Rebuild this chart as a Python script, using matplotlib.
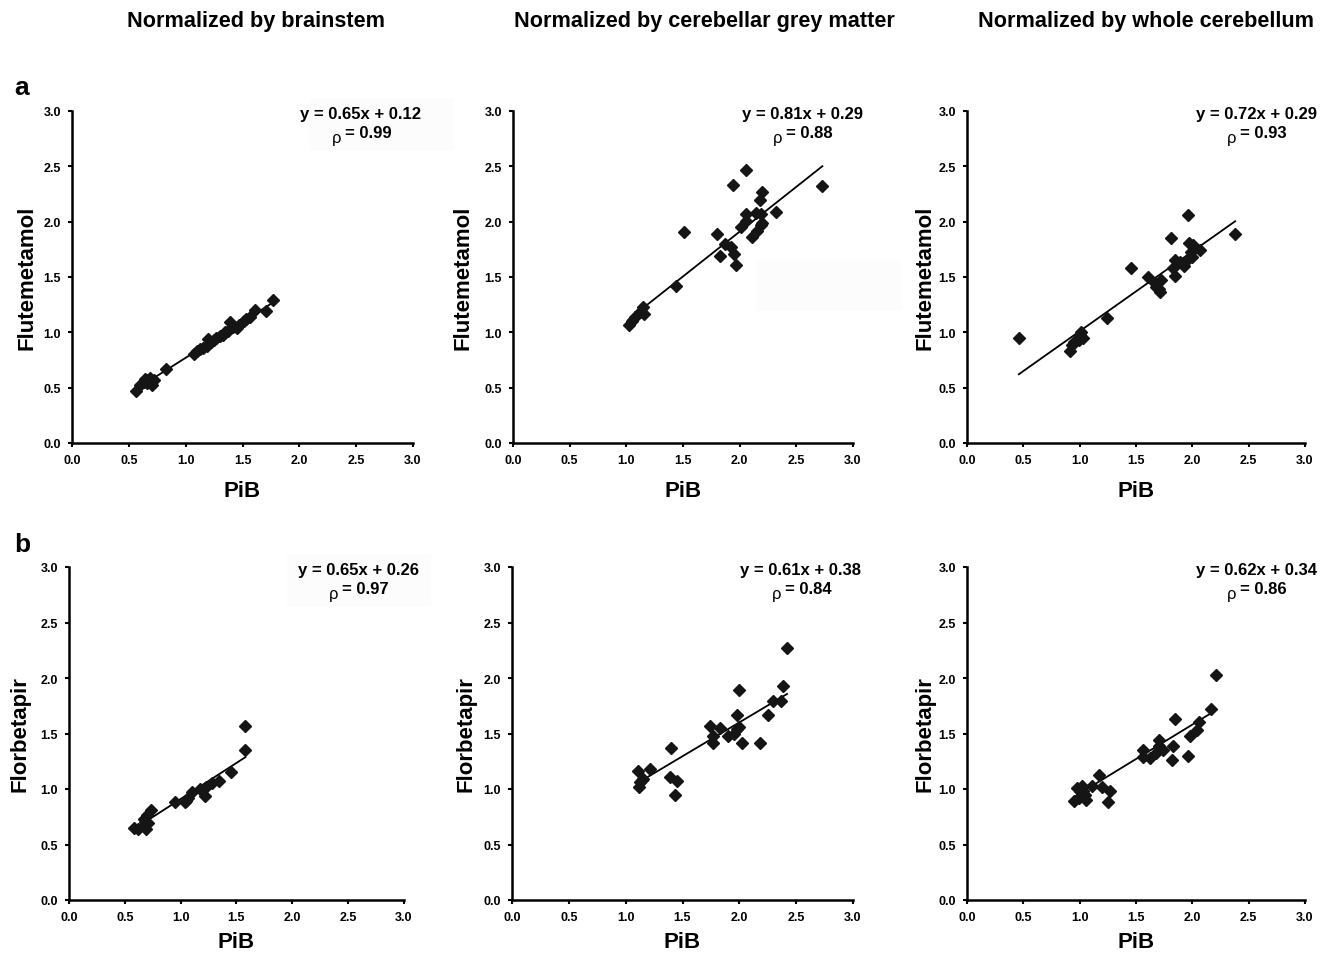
import matplotlib
matplotlib.use("Agg")
import matplotlib.pyplot as plt
from matplotlib.patches import Rectangle
import numpy as np

plt.rcParams['font.family'] = ['Liberation Sans', 'DejaVu Sans']

#column titles and row labels
col_titles = ["Normalized by brainstem", "Normalized by cerebellar grey matter",
              "Normalized by whole cerebellum"]
row_letters = ["a", "b"]
row_ylabels = ["Flutemetamol", "Florbetapir"]
ticks = [0.0, 0.5, 1.0, 1.5, 2.0, 2.5, 3.0]
tick_labels = ["0.0", "0.5", "1.0", "1.5", "2.0", "2.5", "3.0"]

#regression text (slope, intercept, rho)
slopes = [[0.65, 0.81, 0.72], [0.65, 0.61, 0.62]]
intercepts = [[0.12, 0.29, 0.29], [0.26, 0.38, 0.34]]
rhos = [["0.99", "0.88", "0.93"], ["0.97", "0.84", "0.86"]]

#data: row a (flutemetamol vs PiB)
x_a1 = [0.56, 0.60, 0.63, 0.64, 0.66, 0.66, 0.69, 0.70, 0.72, 0.83, 1.07, 1.10, 1.13, 1.15,
        1.19, 1.20, 1.22, 1.25, 1.27, 1.30, 1.33, 1.35, 1.37, 1.39, 1.42, 1.45, 1.47, 1.51,
        1.53, 1.57, 1.61, 1.71, 1.77]
y_a1 = [0.47, 0.52, 0.55, 0.58, 0.54, 0.57, 0.59, 0.52, 0.57, 0.67, 0.80, 0.83, 0.85, 0.86,
        0.88, 0.94, 0.91, 0.93, 0.95, 0.97, 0.98, 1.00, 1.01, 1.09, 1.05, 1.04, 1.07, 1.10,
        1.12, 1.14, 1.20, 1.19, 1.29]

x_a2 = [1.02, 1.05, 1.08, 1.12, 1.15, 1.16, 1.44, 1.51, 1.80, 1.87, 1.83, 1.92, 1.95, 1.97,
        1.94, 2.06, 2.01, 2.06, 2.06, 2.11, 2.14, 2.15, 2.19, 2.20, 2.18, 2.20, 2.19, 2.32, 2.73]
y_a2 = [1.07, 1.10, 1.14, 1.18, 1.23, 1.17, 1.42, 1.91, 1.89, 1.80, 1.69, 1.77, 1.71, 1.61,
        2.33, 2.47, 1.95, 2.07, 2.01, 1.86, 2.08, 1.92, 1.97, 1.99, 2.20, 2.27, 2.07, 2.09, 2.32]

x_a3 = [0.46, 0.91, 0.93, 0.95, 1.00, 1.03, 0.99, 1.01, 1.24, 1.46, 1.61, 1.67, 1.68, 1.71,
        1.72, 1.70, 1.81, 1.83, 1.85, 1.85, 1.89, 1.93, 1.96, 1.97, 2.01, 1.99, 1.97, 2.00,
        2.07, 2.38]
y_a3 = [0.95, 0.83, 0.89, 0.91, 0.98, 0.95, 0.93, 1.00, 1.13, 1.58, 1.50, 1.45, 1.41, 1.36,
        1.47, 1.39, 1.85, 1.58, 1.51, 1.65, 1.64, 1.60, 2.06, 1.81, 1.79, 1.73, 1.67, 1.68,
        1.74, 1.89]

#data: row b (florbetapir vs PiB)
x_b1 = [0.58, 0.62, 0.67, 0.69, 0.67, 0.70, 0.73, 0.68, 0.71, 0.95, 1.04, 1.07, 1.10, 1.05,
        1.17, 1.22, 1.23, 1.28, 1.34, 1.45, 1.58, 1.58]
y_b1 = [0.65, 0.64, 0.67, 0.64, 0.73, 0.77, 0.81, 0.70, 0.69, 0.88, 0.88, 0.92, 0.97, 0.89,
        1.00, 0.94, 1.02, 1.05, 1.07, 1.15, 1.35, 1.57]

x_b2 = [1.11, 1.13, 1.12, 1.14, 1.15, 1.21, 1.40, 1.39, 1.45, 1.43, 1.74, 1.77, 1.77, 1.83,
        1.90, 1.95, 1.98, 2.00, 1.98, 2.00, 2.02, 2.18, 2.25, 2.30, 2.37, 2.38, 2.42]
y_b2 = [1.16, 1.06, 1.02, 1.08, 1.09, 1.18, 1.37, 1.11, 1.07, 0.95, 1.57, 1.48, 1.41, 1.55,
        1.48, 1.50, 1.54, 1.56, 1.67, 1.89, 1.41, 1.41, 1.67, 1.79, 1.79, 1.93, 2.27]

x_b3 = [0.95, 0.99, 1.00, 1.02, 1.03, 1.06, 1.05, 0.98, 1.11, 1.17, 1.20, 1.27, 1.25, 1.56,
        1.56, 1.62, 1.70, 1.70, 1.68, 1.74, 1.82, 1.83, 1.85, 1.96, 1.98, 2.04, 2.06, 2.17, 2.21]
y_b3 = [0.89, 0.92, 0.98, 1.03, 0.98, 0.90, 0.95, 1.01, 1.03, 1.13, 1.02, 0.98, 0.88, 1.35,
        1.29, 1.28, 1.44, 1.39, 1.32, 1.35, 1.26, 1.39, 1.63, 1.30, 1.48, 1.53, 1.60, 1.72, 2.03]

xs = [[x_a1, x_a2, x_a3], [x_b1, x_b2, x_b3]]
ys = [[y_a1, y_a2, y_a3], [y_b1, y_b2, y_b3]]

W, H = 1333, 954
fig = plt.figure(figsize=(W/100, H/100), dpi=100)

#axes boxes in pixels: (left, right) per column/row, (top, bottom) per row
col_px = [[(72, 413), (513, 853), (967, 1305)], [(69, 404), (512, 853), (967, 1305)]]
row_px = [(112, 444), (568, 901)]
#label offsets from the axes, pixels
ylab_off = [[45, 50, 42], [49, 46, 42]]
xlab_off = [48, 42]

#faint boxes behind some equations (pixels: x0, y0, x1, y1)
faint_boxes = [(310, 100, 452, 150), (287, 556, 430, 606), (757, 262, 900, 310)]
for bx in faint_boxes:
    fig.patches.append(Rectangle((bx[0]/W, 1-bx[3]/H), (bx[2]-bx[0])/W, (bx[3]-bx[1])/H,
                                 transform=fig.transFigure, color='#fcfcfc', zorder=0))

for r in range(2):
    top, bot = row_px[r]
    for c in range(3):
        left, right = col_px[r][c]
        ax = fig.add_axes([left/W, 1-bot/H, (right-left)/W, (bot-top)/H])
        ax.patch.set_alpha(0)
        x = np.array(xs[r][c])
        y = np.array(ys[r][c])
        xl = np.array([x.min(), x.max()])
        ax.plot(xl, slopes[r][c]*xl + intercepts[r][c], color='black', lw=1.3, zorder=2)
        ax.plot(x, y, 'D', color='#151515', ms=5.8, mec='#151515', zorder=3)
        ax.set_xlim(0, 3)
        ax.set_ylim(0, 3)
        ax.set_xticks(ticks)
        ax.set_yticks(ticks)
        ax.set_xticklabels(tick_labels, fontsize=9, fontweight='bold')
        ax.set_yticklabels(tick_labels, fontsize=9, fontweight='bold')
        ax.spines['top'].set_visible(False)
        ax.spines['right'].set_visible(False)
        ax.spines['left'].set_linewidth(1.8)
        ax.spines['bottom'].set_linewidth(1.8)
        ax.tick_params(direction='out', length=3, width=1.5, pad=5)
        ax.set_xlabel("PiB", fontsize=16, fontweight='bold', va='center')
        ax.set_ylabel(row_ylabels[r], fontsize=16, fontweight='bold', va='center')
        ax.xaxis.set_label_coords(0.5, -xlab_off[r]/(bot-top))
        ax.yaxis.set_label_coords(-ylab_off[r][c]/(right-left), 0.5)

        #regression equation and rho
        eq = "y = %.2fx + %.2f" % (slopes[r][c], intercepts[r][c])
        fig.text((left + 289)/W, 1-(top+3)/H, eq, fontsize=12, fontweight='bold',
                 ha='center', va='center')
        fig.text((left + 273)/W, 1-(top+22)/H, "= " + rhos[r][c], fontsize=12,
                 fontweight='bold', ha='left', va='center')
        fig.text((left + 265)/W, 1-(top+27)/H, "ρ", fontsize=12, ha='center', va='center')

#column titles
title_x = [256, 704, 1146]
for c in range(3):
    fig.text(title_x[c]/W, 1-22/H, col_titles[c], fontsize=15.6, fontweight='bold',
             ha='center', va='center')

#row letters
letter_y = [88, 545]
for r in range(2):
    fig.text(22/W, 1-letter_y[r]/H, row_letters[r], fontsize=19, fontweight='bold',
             ha='center', va='center')

fig.savefig("out.png", dpi=100)
